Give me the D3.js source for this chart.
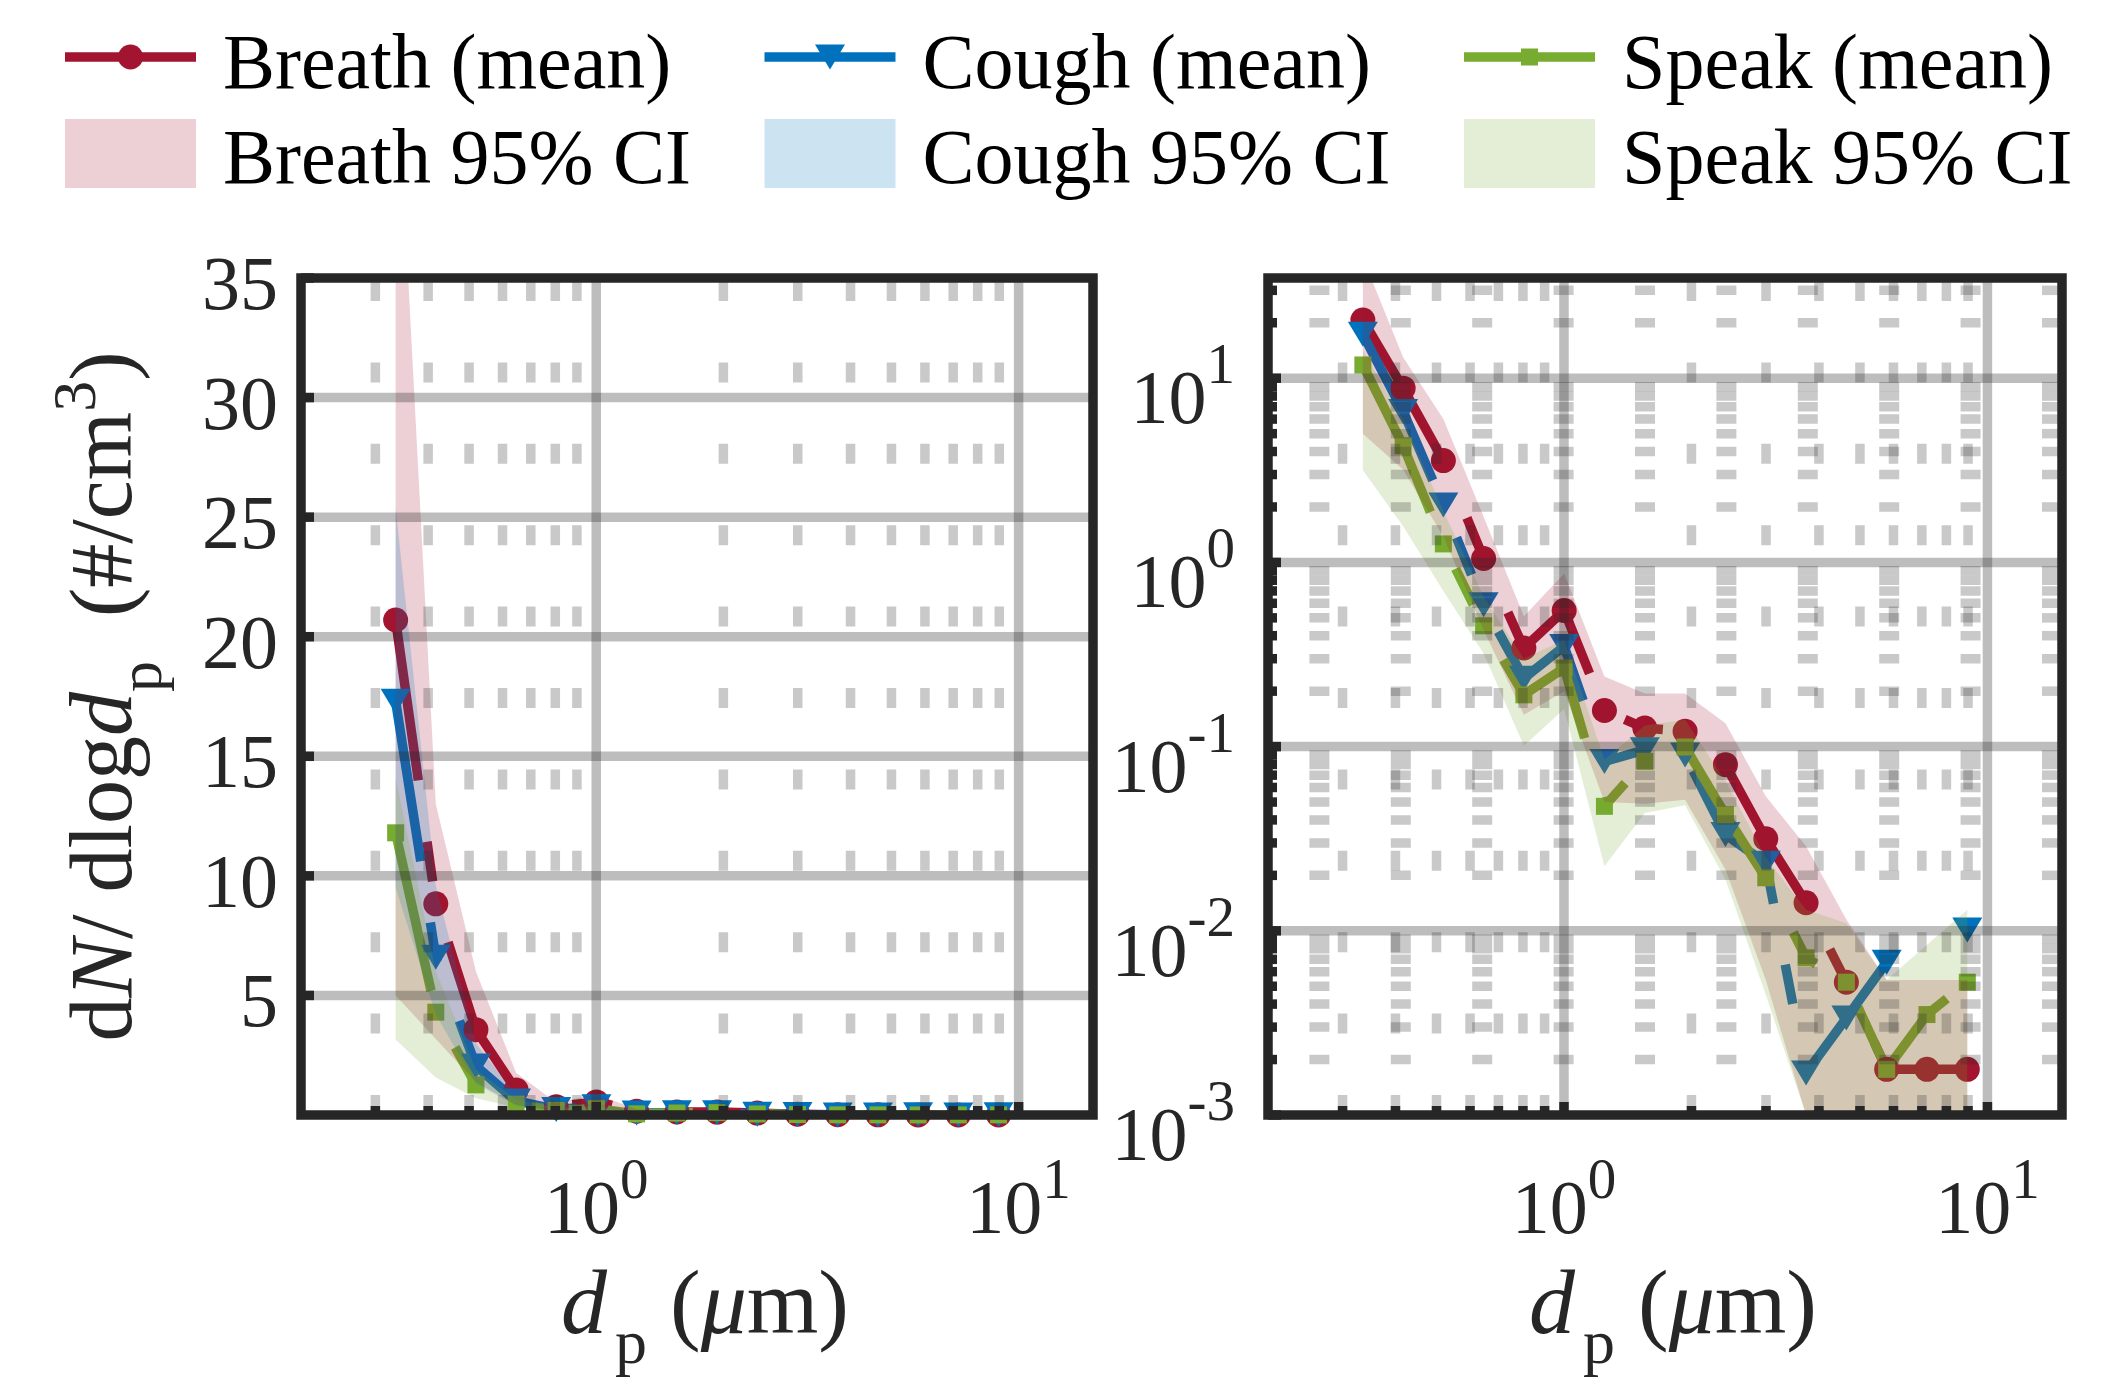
<!DOCTYPE html>
<html><head><meta charset="utf-8">
<script src="https://cdn.jsdelivr.net/npm/d3@7"></script>
<style>
body{margin:0;background:#fff}
svg{display:block}
text{font-family:"Liberation Serif","Times New Roman",Times,serif}
</style>
</head><body>
<svg id="chart" width="2111" height="1384"></svg>
<script>
// ---------------- data ----------------
const diameters   = [0.335, 0.417, 0.519, 0.646, 0.804, 1.001, 1.246, 1.552, 1.932, 2.406, 2.996, 3.730, 4.644, 5.782, 7.198, 8.963];

const breathMean  = [20.7, 8.83, 3.57, 1.05, 0.343, 0.548, 0.157, 0.126, 0.121, 0.0798, 0.0316, 0.0142, 0.00526, 0.00177, 0.00177, 0.00177];
const breathUpper = [45, 13, 6.0, 1.77, 0.51, 0.87, 0.24, 0.194, 0.194, 0.134, 0.0537, 0.0288, 0.0115, 0.0054, 0.0054, 0.0054];
const breathLower = [5.0, 3.18, 1.38, 0.43, 0.149, 0.2, 0.05, 0.049, 0.0515, 0.0215, 0.0054, 0.001, 0.0001, 0.0001, 0.0001, 0.0001];

const coughMean   = [17.3, 6.6, 2.05, 0.589, 0.235, 0.35, 0.083, 0.096, 0.09, 0.0333, 0.0233, 0.00169, 0.00336, 0.00675, 0, 0.0101];
const coughUpper  = [25.4, 9.6, 3.0, 0.85, 0.32, 0.48, 0.12, 0.125, 0.12, 0.05, 0.032, 0.004, 0.005, 0.009, 0, 0.013];
const coughLower  = [9.5, 4.2, 1.3, 0.4, 0.17, 0.24, 0.055, 0.07, 0.065, 0.022, 0.014, 0.0008, 0.002, 0.004, 0, 0.007];

const speakMean   = [11.8, 4.30, 1.26, 0.453, 0.191, 0.267, 0.0474, 0.0832, 0.0995, 0.0427, 0.0194, 0.00713, 0.00526, 0.00177, 0.00351, 0.00526];
const speakUpper  = [14.1, 6.0, 1.9, 0.65, 0.3, 0.38, 0.085, 0.13, 0.14, 0.065, 0.025, 0.013, 0.011, 0.0054, 0.0084, 0.013];
const speakLower  = [3.16, 1.57, 0.70, 0.32, 0.101, 0.16, 0.0224, 0.0436, 0.048, 0.019, 0.0045, 0.001, 0.0001, 0.0001, 0.0001, 0.0001];

const seriesNames   = ["Breath", "Cough", "Speak"];
const meanLabels    = ["Breath (mean)", "Cough (mean)", "Speak (mean)"];
const ciLabels      = ["Breath 95% CI", "Cough 95% CI", "Speak 95% CI"];

const linYTicks      = [5, 10, 15, 20, 25, 30, 35];
const logYDecades    = [1e-3, 1e-2, 1e-1, 1e0, 1e1];
const logYExponents  = ["-3", "-2", "-1", "0", "1"];
const xDecades       = [1e0, 1e1];
const xExponents     = ["0", "1"];
const minorMults     = [2, 3, 4, 5, 6, 7, 8, 9];

// ---------------- setup ----------------
const svg = d3.select("#chart");
const INK = "#262626";
const LW = 9.5;
const colors = {Breath: "#A2142F", Cough: "#0072BD", Speak: "#77AC30"};
const markers = {Breath: "circle", Cough: "triangle", Speak: "square"};
const series = [
  {name: "Breath", mean: breathMean, hi: breathUpper, lo: breathLower},
  {name: "Cough",  mean: coughMean,  hi: coughUpper,  lo: coughLower},
  {name: "Speak",  mean: speakMean,  hi: speakUpper,  lo: speakLower}
];

function markerPath(type) {
  if (type === "circle") return d3.symbol(d3.symbolCircle, Math.PI * 12.5 * 12.5)();
  if (type === "square") return d3.symbol(d3.symbolSquare, 17 * 17)();
  return "M-15,-12.5L15,-12.5L0,12.5Z";
}

const TOP = 278, BOTTOM = 1115;
const panels = [
  {id: "L", isLog: false,
   x: d3.scaleLog().domain([0.2, 15]).range([301, 1093]),
   y: d3.scaleLinear().domain([0, 35]).range([BOTTOM, TOP])},
  {id: "R", isLog: true,
   x: d3.scaleLog().domain([0.2, 15]).range([1268, 2062]),
   y: d3.scaleLog().domain([1e-3, 35]).range([BOTTOM, TOP])}
];

const defs = svg.append("defs");

const xMinor = [0.1, 1].flatMap(b => minorMults.map(m => +(m * b).toFixed(3))).filter(v => v > 0.2 && v < 15);
const yMinorLog = logYDecades.flatMap(b => minorMults.map(m => +(m * b).toPrecision(3))).filter(v => v < 35);

panels.forEach(p => {
  const {x, y, isLog, id} = p;
  const [x0, x1] = x.range();
  const g = svg.append("g");
  const clipId = "clip" + id;
  defs.append("clipPath").attr("id", clipId).append("rect")
    .attr("x", x0).attr("y", TOP).attr("width", x1 - x0).attr("height", BOTTOM - TOP);

  const pts = s => diameters.map((d, i) => ({x: d, v: s.mean[i], lo: s.lo[i], hi: s.hi[i]}));
  const ok = v => isLog ? v > 0 : true;

  // mean lines
  series.forEach(s => {
    const line = d3.line().defined(d => ok(d.v)).x(d => x(d.x)).y(d => y(d.v));
    g.append("path")
      .attr("clip-path", `url(#${clipId})`)
      .attr("d", line(pts(s)))
      .attr("fill", "none")
      .attr("stroke", colors[s.name])
      .attr("stroke-width", LW)
      .attr("stroke-linejoin", "round")
      .attr("stroke-dasharray", "162 62 40 63");
  });
  // markers
  series.forEach(s => {
    g.append("g").selectAll("path")
      .data(pts(s).filter(d => ok(d.v)))
      .join("path")
      .attr("transform", d => `translate(${x(d.x)},${y(d.v)})`)
      .attr("d", markerPath(markers[s.name]))
      .attr("fill", colors[s.name]);
  });
  // CI bands (drawn over lines)
  series.forEach(s => {
    const d = pts(s);
    if (isLog && d.some(q => !(q.lo > 0 && q.hi > 0))) return; // not renderable on log axis
    const area = d3.area().x(q => x(q.x)).y0(q => y(q.lo)).y1(q => y(q.hi));
    g.append("path")
      .attr("clip-path", `url(#${clipId})`)
      .attr("d", area(d))
      .attr("fill", colors[s.name])
      .attr("fill-opacity", 0.2);
  });

  // grid (on top)
  const grid = g.append("g").attr("stroke", INK).attr("stroke-width", LW).attr("fill", "none");
  grid.selectAll(".vmin").data(xMinor).join("path")
    .attr("d", v => `M${x(v)},${BOTTOM}L${x(v)},${TOP}`)
    .attr("stroke-opacity", 0.25).attr("stroke-dasharray", "20 61.4");
  if (isLog) {
    grid.selectAll(".hmin").data(yMinorLog).join("path")
      .attr("d", v => `M${x1},${y(v)}L${x0},${y(v)}`)
      .attr("stroke-opacity", 0.25).attr("stroke-dasharray", "20 61.4");
  }
  const yMajor = isLog ? logYDecades.filter(v => v > 1e-3) : linYTicks.filter(v => v < 35);
  grid.selectAll(".hmaj").data(yMajor).join("path")
    .attr("d", v => `M${x0},${y(v)}L${x1},${y(v)}`)
    .attr("stroke-opacity", 0.30);
  grid.selectAll(".vmaj").data(xDecades).join("path")
    .attr("d", v => `M${x(v)},${BOTTOM}L${x(v)},${TOP}`)
    .attr("stroke-opacity", 0.30);

  // ticks
  const tk = g.append("g").attr("stroke", INK).attr("stroke-width", LW);
  const yTickList = isLog
    ? logYDecades.map(v => ({v, len: 13})).concat(yMinorLog.map(v => ({v, len: 9})))
    : linYTicks.map(v => ({v, len: 13}));
  tk.selectAll(".yt").data(yTickList).join("line")
    .attr("x1", x0).attr("x2", d => x0 + d.len)
    .attr("y1", d => y(d.v)).attr("y2", d => y(d.v));
  const xTickList = xDecades.map(v => ({v, len: 13})).concat(xMinor.map(v => ({v, len: 9})));
  tk.selectAll(".xt").data(xTickList).join("line")
    .attr("x1", d => x(d.v)).attr("x2", d => x(d.v))
    .attr("y1", BOTTOM).attr("y2", d => BOTTOM - d.len);

  // frame
  g.append("rect").attr("x", x0).attr("y", TOP).attr("width", x1 - x0).attr("height", BOTTOM - TOP)
    .attr("fill", "none").attr("stroke", INK).attr("stroke-width", LW);

  // tick labels
  const lab = g.append("g").attr("fill", INK);
  if (isLog) {
    logYDecades.forEach((v, i) => {
      const t = lab.append("text").attr("x", 1235).attr("y", y(v) + 45)
        .attr("text-anchor", "end").attr("font-size", 76);
      t.append("tspan").text("10");
      t.append("tspan").attr("font-size", 57).attr("dy", -40).text(logYExponents[i]);
    });
  } else {
    linYTicks.forEach(v => {
      lab.append("text").attr("x", 278).attr("y", y(v) + 31)
        .attr("text-anchor", "end").attr("font-size", 76).text(v);
    });
  }
  xDecades.forEach((v, i) => {
    const t = lab.append("text").attr("x", x(v)).attr("y", 1233)
      .attr("text-anchor", "middle").attr("font-size", 76);
    t.append("tspan").text("10");
    t.append("tspan").attr("font-size", 57).attr("dy", -35).text(xExponents[i]);
  });

  // x title
  const xt = lab.append("text").attr("x", (x0 + x1) / 2 + 8).attr("y", 1333)
    .attr("text-anchor", "middle").attr("font-size", 92);
  xt.append("tspan").attr("font-style", "italic").text("d");
  xt.append("tspan").attr("font-size", 64).attr("dx", 8).attr("dy", 30).text("p");
  xt.append("tspan").attr("dy", -30).text("\u00a0(");
  xt.append("tspan").attr("font-style", "italic").text("\u03bc");
  xt.append("tspan").text("m)");
});

// y title (left panel)
const yt = svg.append("text").attr("fill", INK)
  .attr("transform", `translate(131,${(TOP + BOTTOM) / 2}) rotate(-90)`)
  .attr("text-anchor", "middle").attr("font-size", 88);
yt.append("tspan").text("d");
yt.append("tspan").attr("font-style", "italic").text("N");
yt.append("tspan").text("/ dlog");
yt.append("tspan").attr("font-style", "italic").text("d");
yt.append("tspan").attr("font-size", 62).attr("dy", 30).text("p");
yt.append("tspan").attr("dy", -30).attr("dx", 22).text("\u00a0(#/cm");
yt.append("tspan").attr("font-size", 62).attr("dy", -36).text("3");
yt.append("tspan").attr("dy", 36).text(")");

// legend
const leg = svg.append("g");
seriesNames.forEach((n, i) => {
  const ox = 65 + i * 699.5;
  const c = colors[n];
  leg.append("line").attr("x1", ox).attr("x2", ox + 131).attr("y1", 57).attr("y2", 57)
    .attr("stroke", c).attr("stroke-width", LW);
  leg.append("path").attr("transform", `translate(${ox + 65.5},57)`).attr("d", markerPath(markers[n])).attr("fill", c);
  leg.append("text").attr("x", ox + 158).attr("y", 88).attr("font-size", 78).attr("fill", "#000").text(meanLabels[i]);
  leg.append("rect").attr("x", ox).attr("y", 119).attr("width", 131).attr("height", 69)
    .attr("fill", c).attr("fill-opacity", 0.2);
  leg.append("text").attr("x", ox + 158).attr("y", 183).attr("font-size", 78).attr("fill", "#000").text(ciLabels[i]);
});
</script>
</body></html>
